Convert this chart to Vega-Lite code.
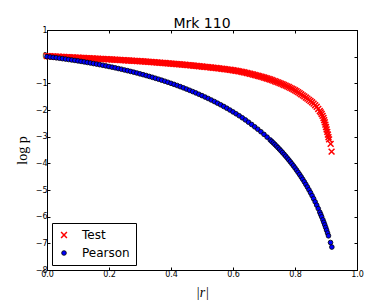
{
  "$schema": "https://vega.github.io/schema/vega-lite/v6.json",
  "width": 310,
  "height": 240,
  "autosize": {"type": "none"},
  "padding": {"left": 47, "top": 30, "right": 32, "bottom": 31},
  "background": "white",
  "title": {"text": "Mrk 110", "font": "DejaVu Sans", "fontSize": 14, "fontWeight": "normal", "color": "black", "anchor": "middle", "baseline": "bottom", "offset": 1, "dy": 20},
  "config": {
    "view": {"stroke": "black", "strokeWidth": 1},
    "axis": {"grid": false, "labelFlush": false, "domainColor": "black", "tickColor": "black", "tickSize": -3, "tickWidth": 1, "labelFont": "DejaVu Sans", "labelFontSize": 8, "labelColor": "black", "labelPadding": 3, "titleColor": "black", "titleFontWeight": "normal"},
    "legend": {"orient": "bottom-left", "offset": 5, "strokeColor": "black", "fillColor": "white", "padding": 6, "labelFont": "DejaVu Sans", "labelFontSize": 12, "labelColor": "black", "labelOffset": 12, "rowPadding": 6, "cornerRadius": 0}
  },
  "datasets": {
    "pts": [
      {"series": "Test", "r": 0, "logp": 0.02}, {"series": "Test", "r": 0.01, "logp": 0.014}, {"series": "Test", "r": 0.02, "logp": 0.008}, {"series": "Test", "r": 0.03, "logp": 0.002}, {"series": "Test", "r": 0.04, "logp": -0.004}, {"series": "Test", "r": 0.05, "logp": -0.01}, {"series": "Test", "r": 0.06, "logp": -0.016}, {"series": "Test", "r": 0.07, "logp": -0.022}, {"series": "Test", "r": 0.08, "logp": -0.028}, {"series": "Test", "r": 0.09, "logp": -0.034}, {"series": "Test", "r": 0.1, "logp": -0.04}, {"series": "Test", "r": 0.11, "logp": -0.046}, {"series": "Test", "r": 0.12, "logp": -0.052}, {"series": "Test", "r": 0.13, "logp": -0.058}, {"series": "Test", "r": 0.14, "logp": -0.064}, {"series": "Test", "r": 0.15, "logp": -0.07}, {"series": "Test", "r": 0.16, "logp": -0.076}, {"series": "Test", "r": 0.17, "logp": -0.082}, {"series": "Test", "r": 0.18, "logp": -0.088}, {"series": "Test", "r": 0.19, "logp": -0.094}, {"series": "Test", "r": 0.2, "logp": -0.1}, {"series": "Test", "r": 0.21, "logp": -0.107}, {"series": "Test", "r": 0.22, "logp": -0.114}, {"series": "Test", "r": 0.23, "logp": -0.121}, {"series": "Test", "r": 0.24, "logp": -0.128}, {"series": "Test", "r": 0.25, "logp": -0.135}, {"series": "Test", "r": 0.26, "logp": -0.142}, {"series": "Test", "r": 0.27, "logp": -0.149}, {"series": "Test", "r": 0.28, "logp": -0.156}, {"series": "Test", "r": 0.29, "logp": -0.163}, {"series": "Test", "r": 0.3, "logp": -0.17}, {"series": "Test", "r": 0.31, "logp": -0.178}, {"series": "Test", "r": 0.32, "logp": -0.187}, {"series": "Test", "r": 0.33, "logp": -0.195}, {"series": "Test", "r": 0.34, "logp": -0.204}, {"series": "Test", "r": 0.35, "logp": -0.213}, {"series": "Test", "r": 0.36, "logp": -0.222}, {"series": "Test", "r": 0.37, "logp": -0.231}, {"series": "Test", "r": 0.38, "logp": -0.24}, {"series": "Test", "r": 0.39, "logp": -0.25}, {"series": "Test", "r": 0.4, "logp": -0.26}, {"series": "Test", "r": 0.41, "logp": -0.27}, {"series": "Test", "r": 0.42, "logp": -0.28}, {"series": "Test", "r": 0.43, "logp": -0.29}, {"series": "Test", "r": 0.44, "logp": -0.3}, {"series": "Test", "r": 0.45, "logp": -0.31}, {"series": "Test", "r": 0.46, "logp": -0.321}, {"series": "Test", "r": 0.47, "logp": -0.333}, {"series": "Test", "r": 0.48, "logp": -0.345}, {"series": "Test", "r": 0.49, "logp": -0.357}, {"series": "Test", "r": 0.5, "logp": -0.37}, {"series": "Test", "r": 0.51, "logp": -0.382}, {"series": "Test", "r": 0.52, "logp": -0.394}, {"series": "Test", "r": 0.53, "logp": -0.407}, {"series": "Test", "r": 0.54, "logp": -0.42}, {"series": "Test", "r": 0.55, "logp": -0.434}, {"series": "Test", "r": 0.56, "logp": -0.448}, {"series": "Test", "r": 0.57, "logp": -0.462}, {"series": "Test", "r": 0.58, "logp": -0.477}, {"series": "Test", "r": 0.59, "logp": -0.493}, {"series": "Test", "r": 0.6, "logp": -0.51}, {"series": "Test", "r": 0.61, "logp": -0.529}, {"series": "Test", "r": 0.62, "logp": -0.55}, {"series": "Test", "r": 0.63, "logp": -0.573}, {"series": "Test", "r": 0.64, "logp": -0.6}, {"series": "Test", "r": 0.65, "logp": -0.627}, {"series": "Test", "r": 0.66, "logp": -0.655}, {"series": "Test", "r": 0.67, "logp": -0.685}, {"series": "Test", "r": 0.68, "logp": -0.716}, {"series": "Test", "r": 0.69, "logp": -0.748}, {"series": "Test", "r": 0.7, "logp": -0.782}, {"series": "Test", "r": 0.71, "logp": -0.818}, {"series": "Test", "r": 0.72, "logp": -0.855}, {"series": "Test", "r": 0.73, "logp": -0.897}, {"series": "Test", "r": 0.74, "logp": -0.942}, {"series": "Test", "r": 0.75, "logp": -0.99}, {"series": "Test", "r": 0.76, "logp": -1.035}, {"series": "Test", "r": 0.77, "logp": -1.085}, {"series": "Test", "r": 0.78, "logp": -1.14}, {"series": "Test", "r": 0.79, "logp": -1.2}, {"series": "Test", "r": 0.8, "logp": -1.26}, {"series": "Test", "r": 0.805, "logp": -1.295}, {"series": "Test", "r": 0.81, "logp": -1.33}, {"series": "Test", "r": 0.815, "logp": -1.37}, {"series": "Test", "r": 0.82, "logp": -1.41}, {"series": "Test", "r": 0.825, "logp": -1.45}, {"series": "Test", "r": 0.83, "logp": -1.49}, {"series": "Test", "r": 0.835, "logp": -1.532}, {"series": "Test", "r": 0.84, "logp": -1.575}, {"series": "Test", "r": 0.845, "logp": -1.62}, {"series": "Test", "r": 0.85, "logp": -1.665}, {"series": "Test", "r": 0.855, "logp": -1.712}, {"series": "Test", "r": 0.86, "logp": -1.76}, {"series": "Test", "r": 0.865, "logp": -1.82}, {"series": "Test", "r": 0.87, "logp": -1.88}, {"series": "Test", "r": 0.875, "logp": -1.96}, {"series": "Test", "r": 0.88, "logp": -2.04}, {"series": "Test", "r": 0.883, "logp": -2.09}, {"series": "Test", "r": 0.886, "logp": -2.15}, {"series": "Test", "r": 0.889, "logp": -2.22}, {"series": "Test", "r": 0.892, "logp": -2.3}, {"series": "Test", "r": 0.894, "logp": -2.38}, {"series": "Test", "r": 0.896, "logp": -2.46}, {"series": "Test", "r": 0.898, "logp": -2.55}, {"series": "Test", "r": 0.9, "logp": -2.64}, {"series": "Test", "r": 0.902, "logp": -2.73}, {"series": "Test", "r": 0.904, "logp": -2.82}, {"series": "Test", "r": 0.906, "logp": -2.92}, {"series": "Test", "r": 0.908, "logp": -3.02}, {"series": "Test", "r": 0.91, "logp": -3.1}, {"series": "Test", "r": 0.915, "logp": -3.27}, {"series": "Test", "r": 0.918, "logp": -3.56},
      {"series": "Test", "r": 0.005, "logp": 0.017}, {"series": "Test", "r": 0.015, "logp": 0.011}, {"series": "Test", "r": 0.025, "logp": 0.005}, {"series": "Test", "r": 0.035, "logp": -0.001}, {"series": "Test", "r": 0.045, "logp": -0.007}, {"series": "Test", "r": 0.055, "logp": -0.013}, {"series": "Test", "r": 0.065, "logp": -0.019}, {"series": "Test", "r": 0.075, "logp": -0.025}, {"series": "Test", "r": 0.085, "logp": -0.031}, {"series": "Test", "r": 0.095, "logp": -0.037}, {"series": "Test", "r": 0.105, "logp": -0.043}, {"series": "Test", "r": 0.115, "logp": -0.049}, {"series": "Test", "r": 0.125, "logp": -0.055}, {"series": "Test", "r": 0.135, "logp": -0.061}, {"series": "Test", "r": 0.145, "logp": -0.067}, {"series": "Test", "r": 0.155, "logp": -0.073}, {"series": "Test", "r": 0.165, "logp": -0.079}, {"series": "Test", "r": 0.175, "logp": -0.085}, {"series": "Test", "r": 0.185, "logp": -0.091}, {"series": "Test", "r": 0.195, "logp": -0.097}, {"series": "Test", "r": 0.205, "logp": -0.1035}, {"series": "Test", "r": 0.215, "logp": -0.1105}, {"series": "Test", "r": 0.225, "logp": -0.1175}, {"series": "Test", "r": 0.235, "logp": -0.1245}, {"series": "Test", "r": 0.245, "logp": -0.1315}, {"series": "Test", "r": 0.255, "logp": -0.1385}, {"series": "Test", "r": 0.265, "logp": -0.1455}, {"series": "Test", "r": 0.275, "logp": -0.1525}, {"series": "Test", "r": 0.285, "logp": -0.1595}, {"series": "Test", "r": 0.295, "logp": -0.1665}, {"series": "Test", "r": 0.305, "logp": -0.174}, {"series": "Test", "r": 0.315, "logp": -0.1825}, {"series": "Test", "r": 0.325, "logp": -0.191}, {"series": "Test", "r": 0.335, "logp": -0.1995}, {"series": "Test", "r": 0.345, "logp": -0.2085}, {"series": "Test", "r": 0.355, "logp": -0.2175}, {"series": "Test", "r": 0.365, "logp": -0.2265}, {"series": "Test", "r": 0.375, "logp": -0.2355}, {"series": "Test", "r": 0.385, "logp": -0.245}, {"series": "Test", "r": 0.395, "logp": -0.255}, {"series": "Test", "r": 0.405, "logp": -0.265}, {"series": "Test", "r": 0.415, "logp": -0.275}, {"series": "Test", "r": 0.425, "logp": -0.285}, {"series": "Test", "r": 0.435, "logp": -0.295}, {"series": "Test", "r": 0.445, "logp": -0.305}, {"series": "Test", "r": 0.455, "logp": -0.3155}, {"series": "Test", "r": 0.465, "logp": -0.327}, {"series": "Test", "r": 0.475, "logp": -0.339}, {"series": "Test", "r": 0.485, "logp": -0.351}, {"series": "Test", "r": 0.495, "logp": -0.3635}, {"series": "Test", "r": 0.505, "logp": -0.376}, {"series": "Test", "r": 0.515, "logp": -0.388}, {"series": "Test", "r": 0.525, "logp": -0.4005}, {"series": "Test", "r": 0.535, "logp": -0.4135}, {"series": "Test", "r": 0.545, "logp": -0.427}, {"series": "Test", "r": 0.555, "logp": -0.441}, {"series": "Test", "r": 0.565, "logp": -0.455}, {"series": "Test", "r": 0.575, "logp": -0.4695}, {"series": "Test", "r": 0.585, "logp": -0.485}, {"series": "Test", "r": 0.595, "logp": -0.5015}, {"series": "Test", "r": 0.605, "logp": -0.5195}, {"series": "Test", "r": 0.615, "logp": -0.5395}, {"series": "Test", "r": 0.625, "logp": -0.5615}, {"series": "Test", "r": 0.635, "logp": -0.5865}, {"series": "Test", "r": 0.645, "logp": -0.6135}, {"series": "Test", "r": 0.655, "logp": -0.641}, {"series": "Test", "r": 0.665, "logp": -0.67}, {"series": "Test", "r": 0.675, "logp": -0.7005}, {"series": "Test", "r": 0.685, "logp": -0.732}, {"series": "Test", "r": 0.695, "logp": -0.765}, {"series": "Test", "r": 0.705, "logp": -0.8}, {"series": "Test", "r": 0.715, "logp": -0.8365}, {"series": "Test", "r": 0.725, "logp": -0.876}, {"series": "Test", "r": 0.735, "logp": -0.9195}, {"series": "Test", "r": 0.745, "logp": -0.966}, {"series": "Test", "r": 0.755, "logp": -1.0125}, {"series": "Test", "r": 0.765, "logp": -1.06}, {"series": "Test", "r": 0.775, "logp": -1.1125}, {"series": "Test", "r": 0.785, "logp": -1.17}, {"series": "Test", "r": 0.795, "logp": -1.23},
      {"series": "Pearson", "r": 0, "logp": 0}, {"series": "Pearson", "r": 0.01, "logp": -0.014}, {"series": "Pearson", "r": 0.02, "logp": -0.028}, {"series": "Pearson", "r": 0.03, "logp": -0.042}, {"series": "Pearson", "r": 0.04, "logp": -0.058}, {"series": "Pearson", "r": 0.05, "logp": -0.074}, {"series": "Pearson", "r": 0.06, "logp": -0.09}, {"series": "Pearson", "r": 0.07, "logp": -0.107}, {"series": "Pearson", "r": 0.08, "logp": -0.124}, {"series": "Pearson", "r": 0.09, "logp": -0.141}, {"series": "Pearson", "r": 0.1, "logp": -0.159}, {"series": "Pearson", "r": 0.11, "logp": -0.178}, {"series": "Pearson", "r": 0.12, "logp": -0.197}, {"series": "Pearson", "r": 0.13, "logp": -0.217}, {"series": "Pearson", "r": 0.14, "logp": -0.237}, {"series": "Pearson", "r": 0.15, "logp": -0.258}, {"series": "Pearson", "r": 0.16, "logp": -0.279}, {"series": "Pearson", "r": 0.17, "logp": -0.301}, {"series": "Pearson", "r": 0.18, "logp": -0.323}, {"series": "Pearson", "r": 0.19, "logp": -0.346}, {"series": "Pearson", "r": 0.2, "logp": -0.37}, {"series": "Pearson", "r": 0.21, "logp": -0.394}, {"series": "Pearson", "r": 0.22, "logp": -0.419}, {"series": "Pearson", "r": 0.23, "logp": -0.445}, {"series": "Pearson", "r": 0.24, "logp": -0.471}, {"series": "Pearson", "r": 0.25, "logp": -0.499}, {"series": "Pearson", "r": 0.26, "logp": -0.526}, {"series": "Pearson", "r": 0.27, "logp": -0.554}, {"series": "Pearson", "r": 0.28, "logp": -0.583}, {"series": "Pearson", "r": 0.29, "logp": -0.613}, {"series": "Pearson", "r": 0.3, "logp": -0.645}, {"series": "Pearson", "r": 0.31, "logp": -0.676}, {"series": "Pearson", "r": 0.32, "logp": -0.708}, {"series": "Pearson", "r": 0.33, "logp": -0.741}, {"series": "Pearson", "r": 0.34, "logp": -0.775}, {"series": "Pearson", "r": 0.35, "logp": -0.811}, {"series": "Pearson", "r": 0.36, "logp": -0.846}, {"series": "Pearson", "r": 0.37, "logp": -0.883}, {"series": "Pearson", "r": 0.38, "logp": -0.921}, {"series": "Pearson", "r": 0.39, "logp": -0.96}, {"series": "Pearson", "r": 0.4, "logp": -1.0}, {"series": "Pearson", "r": 0.41, "logp": -1.04}, {"series": "Pearson", "r": 0.42, "logp": -1.082}, {"series": "Pearson", "r": 0.43, "logp": -1.125}, {"series": "Pearson", "r": 0.44, "logp": -1.169}, {"series": "Pearson", "r": 0.45, "logp": -1.215}, {"series": "Pearson", "r": 0.46, "logp": -1.261}, {"series": "Pearson", "r": 0.47, "logp": -1.309}, {"series": "Pearson", "r": 0.48, "logp": -1.358}, {"series": "Pearson", "r": 0.49, "logp": -1.409}, {"series": "Pearson", "r": 0.5, "logp": -1.461}, {"series": "Pearson", "r": 0.51, "logp": -1.514}, {"series": "Pearson", "r": 0.52, "logp": -1.569}, {"series": "Pearson", "r": 0.53, "logp": -1.626}, {"series": "Pearson", "r": 0.54, "logp": -1.684}, {"series": "Pearson", "r": 0.55, "logp": -1.744}, {"series": "Pearson", "r": 0.56, "logp": -1.804}, {"series": "Pearson", "r": 0.57, "logp": -1.867}, {"series": "Pearson", "r": 0.58, "logp": -1.933}, {"series": "Pearson", "r": 0.59, "logp": -2.001}, {"series": "Pearson", "r": 0.6, "logp": -2.072}, {"series": "Pearson", "r": 0.61, "logp": -2.142}, {"series": "Pearson", "r": 0.62, "logp": -2.215}, {"series": "Pearson", "r": 0.63, "logp": -2.292}, {"series": "Pearson", "r": 0.64, "logp": -2.372}, {"series": "Pearson", "r": 0.65, "logp": -2.457}, {"series": "Pearson", "r": 0.66, "logp": -2.542}, {"series": "Pearson", "r": 0.67, "logp": -2.63}, {"series": "Pearson", "r": 0.68, "logp": -2.721}, {"series": "Pearson", "r": 0.69, "logp": -2.815}, {"series": "Pearson", "r": 0.7, "logp": -2.914}, {"series": "Pearson", "r": 0.71, "logp": -3.017}, {"series": "Pearson", "r": 0.72, "logp": -3.123}, {"series": "Pearson", "r": 0.725, "logp": -3.178}, {"series": "Pearson", "r": 0.73, "logp": -3.234}, {"series": "Pearson", "r": 0.735, "logp": -3.291}, {"series": "Pearson", "r": 0.74, "logp": -3.35}, {"series": "Pearson", "r": 0.745, "logp": -3.41}, {"series": "Pearson", "r": 0.75, "logp": -3.471}, {"series": "Pearson", "r": 0.755, "logp": -3.534}, {"series": "Pearson", "r": 0.76, "logp": -3.598}, {"series": "Pearson", "r": 0.765, "logp": -3.664}, {"series": "Pearson", "r": 0.77, "logp": -3.731}, {"series": "Pearson", "r": 0.775, "logp": -3.8}, {"series": "Pearson", "r": 0.78, "logp": -3.871}, {"series": "Pearson", "r": 0.785, "logp": -3.944}, {"series": "Pearson", "r": 0.79, "logp": -4.018}, {"series": "Pearson", "r": 0.795, "logp": -4.094}, {"series": "Pearson", "r": 0.8, "logp": -4.172}, {"series": "Pearson", "r": 0.805, "logp": -4.253}, {"series": "Pearson", "r": 0.81, "logp": -4.336}, {"series": "Pearson", "r": 0.815, "logp": -4.422}, {"series": "Pearson", "r": 0.82, "logp": -4.509}, {"series": "Pearson", "r": 0.825, "logp": -4.6}, {"series": "Pearson", "r": 0.83, "logp": -4.693}, {"series": "Pearson", "r": 0.835, "logp": -4.79}, {"series": "Pearson", "r": 0.84, "logp": -4.889}, {"series": "Pearson", "r": 0.845, "logp": -4.993}, {"series": "Pearson", "r": 0.85, "logp": -5.099}, {"series": "Pearson", "r": 0.855, "logp": -5.21}, {"series": "Pearson", "r": 0.86, "logp": -5.325}, {"series": "Pearson", "r": 0.865, "logp": -5.445}, {"series": "Pearson", "r": 0.87, "logp": -5.568}, {"series": "Pearson", "r": 0.875, "logp": -5.698}, {"series": "Pearson", "r": 0.88, "logp": -5.832}, {"series": "Pearson", "r": 0.883, "logp": -5.918}, {"series": "Pearson", "r": 0.886, "logp": -6.005}, {"series": "Pearson", "r": 0.89, "logp": -6.12}, {"series": "Pearson", "r": 0.893, "logp": -6.213}, {"series": "Pearson", "r": 0.896, "logp": -6.308}, {"series": "Pearson", "r": 0.899, "logp": -6.405}, {"series": "Pearson", "r": 0.902, "logp": -6.507}, {"series": "Pearson", "r": 0.905, "logp": -6.612}, {"series": "Pearson", "r": 0.908, "logp": -6.718}, {"series": "Pearson", "r": 0.9146, "logp": -6.97}, {"series": "Pearson", "r": 0.9189, "logp": -7.14}
    ]
  },
  "data": {"name": "pts"},
  "layer": [
    {
      "mark": {"type": "point", "filled": true, "opacity": 1},
      "encoding": {
        "x": {"field": "r", "type": "quantitative", "scale": {"domain": [0, 1], "nice": false, "zero": false},
              "axis": {"orient": "bottom", "values": [0, 0.2, 0.4, 0.6, 0.8, 1.0], "format": ".1f", "title": "|r|", "titleFont": "Liberation Serif", "titleFontStyle": "italic", "titleFontSize": 14, "titleY": 22, "titleBaseline": "middle"}},
        "y": {"field": "logp", "type": "quantitative", "scale": {"domain": [-8, 1], "nice": false, "zero": false},
              "axis": {"orient": "left", "values": [-8, -7, -6, -5, -4, -3, -2, -1, 0, 1], "format": "d", "title": "log p", "titleFont": "Liberation Serif", "titleFontSize": 14, "titleX": -25, "titleY": 120, "titleAngle": -90, "titleAlign": "center", "titleBaseline": "middle"}},
        "shape": {"field": "series", "type": "nominal", "scale": {"domain": ["Test", "Pearson"], "range": ["M-1,-1L1,1M-1,1L1,-1", "circle"]}, "legend": {"title": null}},
        "fill": {"field": "series", "type": "nominal", "scale": {"domain": ["Test", "Pearson"], "range": ["#ff0000", "#0000ff"]}, "legend": {"title": null}},
        "stroke": {"field": "series", "type": "nominal", "scale": {"domain": ["Test", "Pearson"], "range": ["#ff0000", "#000000"]}, "legend": {"title": null}},
        "size": {"field": "series", "type": "nominal", "scale": {"domain": ["Test", "Pearson"], "range": [34, 22]}, "legend": {"title": null}},
        "strokeWidth": {"field": "series", "type": "nominal", "scale": {"domain": ["Test", "Pearson"], "range": [1.5, 0.8]}, "legend": {"title": null}}
      }
    },
    {
      "mark": {"type": "point", "opacity": 0},
      "encoding": {
        "x": {"field": "r", "type": "quantitative", "axis": {"orient": "top", "values": [0, 0.2, 0.4, 0.6, 0.8, 1.0], "labels": false, "title": null, "minExtent": 0, "maxExtent": 0, "labelPadding": 0}},
        "y": {"field": "logp", "type": "quantitative", "axis": {"orient": "right", "values": [-8, -7, -6, -5, -4, -3, -2, -1, 0, 1], "labels": false, "title": null, "minExtent": 0, "maxExtent": 0, "labelPadding": 0}}
      }
    }
  ],
  "resolve": {"axis": {"x": "independent", "y": "independent"}}
}
